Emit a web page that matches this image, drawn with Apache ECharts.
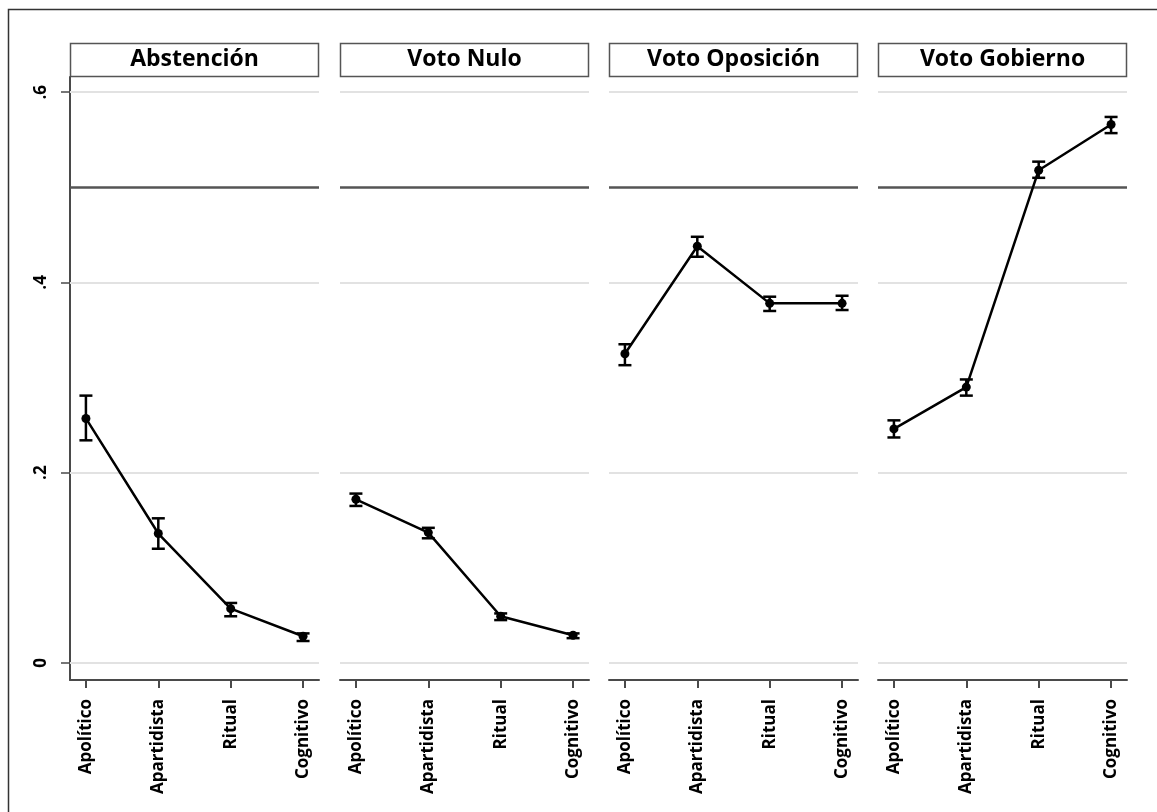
<!DOCTYPE html>
<html><head><meta charset="utf-8">
<script src="https://cdn.jsdelivr.net/npm/echarts@6/dist/echarts.min.js"></script>
<style>html,body{margin:0;padding:0;background:#fff}#c{width:1157px;height:812px}</style>
</head><body><div id="c"></div>
<script>
const categories = ['Apolítico', 'Apartidista', 'Ritual', 'Cognitivo'];
const panelTitles = ['Abstención', 'Voto Nulo', 'Voto Oposición', 'Voto Gobierno'];
const yTicks = [0, 0.2, 0.4, 0.6];
const yTickLabels = ['0', '.2', '.4', '.6'];
const refLine = 0.5;

const abstencion   = [0.257, 0.136, 0.057, 0.028];
const abstencionLo = [0.234, 0.120, 0.049, 0.023];
const abstencionHi = [0.281, 0.152, 0.063, 0.031];

const votoNulo   = [0.172, 0.137, 0.049, 0.029];
const votoNuloLo = [0.165, 0.131, 0.045, 0.026];
const votoNuloHi = [0.178, 0.142, 0.052, 0.031];

const votoOposicion   = [0.325, 0.438, 0.378, 0.378];
const votoOposicionLo = [0.313, 0.427, 0.370, 0.371];
const votoOposicionHi = [0.335, 0.448, 0.385, 0.386];

const votoGobierno   = [0.246, 0.290, 0.518, 0.566];
const votoGobiernoLo = [0.237, 0.281, 0.510, 0.557];
const votoGobiernoHi = [0.255, 0.298, 0.527, 0.574];

const panels = [
  [abstencion, abstencionLo, abstencionHi],
  [votoNulo, votoNuloLo, votoNuloHi],
  [votoOposicion, votoOposicionLo, votoOposicionHi],
  [votoGobierno, votoGobiernoLo, votoGobiernoHi]
];

const FONT = '"Open Sans", "DejaVu Sans", sans-serif';
const lefts = [70, 340, 609, 878];
const gw = 249, gtop = 77, gh = 603;
const axisColor = '#4a4a4a';

const grids = [], xAxes = [], yAxes = [], series = [], graphics = [];
graphics.push({type:'rect', shape:{x:8.5, y:9.5, width:1170, height:830},
  style:{fill:'none', stroke:'#333', lineWidth:1.5}, silent:true});

panels.forEach((p, i) => {
  grids.push({left: lefts[i], top: gtop, width: gw, height: gh, containLabel: false});
  xAxes.push({
    type:'value', gridIndex:i, min:0.78, max:4.22,
    splitLine:{show:false},
    axisLine:{show:true, onZero:false, lineStyle:{color:axisColor, width:2}},
    axisTick:{show:true, customValues:[1,2,3,4], length:8, lineStyle:{color:axisColor, width:2}},
    axisLabel:{show:true, customValues:[1,2,3,4], rotate:90, margin:19,
      formatter: v => categories[Math.round(v)-1],
      fontFamily:FONT, fontWeight:'bold', fontSize:17, color:'#000'}
  });
  yAxes.push({
    type:'value', gridIndex:i, min:-0.018, max:0.616,
    splitLine:{show:false},
    axisLine:{show:i===0, onZero:false, lineStyle:{color:axisColor, width:2}},
    axisTick:{show:i===0, customValues:yTicks, length:9, lineStyle:{color:axisColor, width:1.5}},
    axisLabel:{show:i===0, customValues:yTicks, rotate:90, margin:20,
      formatter: v => { const k = yTicks.findIndex(t => Math.abs(t - v) < 1e-6); return k >= 0 ? yTickLabels[k] : ''; },
      fontFamily:FONT, fontWeight:'bold', fontSize:17, color:'#000'}
  });
  const mlData = yTicks.map(v => ({yAxis:v, lineStyle:{color:'#e2e2e2', width:2, type:'solid'}}));
  mlData.push({yAxis:refLine, lineStyle:{color:'#555', width:2.5, type:'solid'}});
  series.push({
    type:'line', xAxisIndex:i, yAxisIndex:i, z:3,
    data: p[0].map((v, k) => [k+1, v]),
    symbol:'circle', symbolSize:9,
    itemStyle:{color:'#000'}, lineStyle:{color:'#000', width:2.5},
    markLine:{silent:true, symbol:'none', z:1, label:{show:false}, data:mlData, animation:false}
  });
  series.push({
    type:'custom', xAxisIndex:i, yAxisIndex:i, z:4,
    data: p[0].map((v, k) => [k+1, p[1][k], p[2][k]]),
    renderItem: (params, api) => {
      const lo = api.coord([api.value(0), api.value(1)]);
      const hi = api.coord([api.value(0), api.value(2)]);
      const hw = 6.5;
      const st = {stroke:'#000', lineWidth:2.5};
      return {type:'group', children:[
        {type:'line', shape:{x1:lo[0], y1:lo[1], x2:hi[0], y2:hi[1]}, style:st},
        {type:'line', shape:{x1:lo[0]-hw, y1:lo[1], x2:lo[0]+hw, y2:lo[1]}, style:st},
        {type:'line', shape:{x1:hi[0]-hw, y1:hi[1], x2:hi[0]+hw, y2:hi[1]}, style:st}
      ]};
    }
  });
  graphics.push({type:'rect', shape:{x:lefts[i]+0.5, y:43.5, width:gw-1, height:33},
    style:{fill:'#fff', stroke:'#555', lineWidth:1.5}, silent:true});
  graphics.push({type:'text', x:lefts[i]+gw/2, y:59,
    style:{text:panelTitles[i], fill:'#000', font:'bold 23px ' + FONT, align:'center', verticalAlign:'middle'}, silent:true});
});

const chart = echarts.init(document.getElementById('c'), null, {renderer:'canvas'});
chart.setOption({
  animation:false,
  backgroundColor:'#fff',
  grid:grids, xAxis:xAxes, yAxis:yAxes, series:series, graphic:graphics
});
</script></body></html>
